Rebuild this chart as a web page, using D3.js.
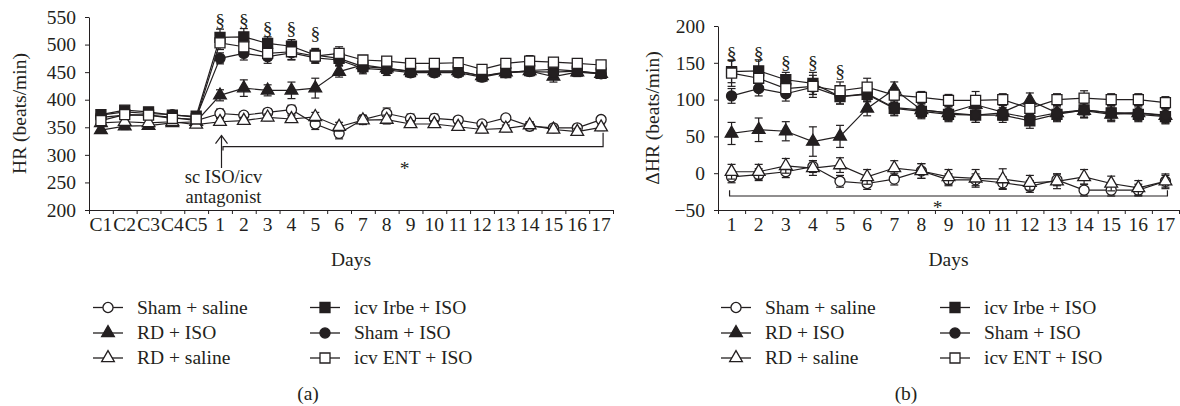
<!DOCTYPE html>
<html>
<head>
<meta charset="utf-8">
<script src="https://cdn.jsdelivr.net/npm/d3@7"></script>
<style>
  body { margin: 0; background: #fff; }
  svg { display: block; }
  text { font-family: "Liberation Serif", "Times New Roman", serif; fill: #231f20; }
</style>
</head>
<body>
<div id="chart"></div>
<script>
// categories
const daysA = ["C1", "C2", "C3", "C4", "C5", "1", "2", "3", "4", "5", "6", "7", "8", "9", "10", "11", "12", "13", "14", "15", "16", "17"];
const daysB = ["1", "2", "3", "4", "5", "6", "7", "8", "9", "10", "11", "12", "13", "14", "15", "16", "17"];

// panel (a) HR, beats/min
const shamSalineA = [368, 372, 372, 368, 362, 375, 372, 377, 382, 356, 339, 364, 375, 366, 366, 363, 356, 367, 352, 349, 349, 364];
const rdIsoA = [345, 352, 353, 358, 360, 408, 421, 417, 417, 421, 451, 463, 457, 452, 452, 452, 443, 450, 452, 442, 450, 447];
const rdSalineA = [358, 360, 358, 360, 355, 360, 362, 368, 365, 369, 351, 363, 364, 356, 356, 351, 346, 348, 354, 346, 342, 350];
const irbeIsoA = [373, 381, 378, 372, 370, 513, 514, 502, 497, 481, 475, 460, 457, 451, 452, 452, 443, 449, 453, 455, 452, 448];
const shamIsoA = [372, 378, 375, 373, 368, 475, 484, 478, 485, 476, 472, 457, 454, 449, 449, 449, 441, 449, 451, 450, 452, 447];
const entIsoA = [362, 373, 372, 366, 365, 503, 496, 484, 487, 479, 484, 472, 470, 466, 466, 467, 455, 466, 470, 468, 466, 463];

// panel (a) error bars
const shamSalineErrA = [5, 6, 5, 5, 5, 8, 6, 6, 8, 10, 10, 8, 10, 8, 8, 6, 6, 6, 8, 6, 6, 6];
const rdIsoErrA = [6, 6, 6, 6, 6, 10, 15, 10, 15, 18, 10, 8, 8, 8, 8, 8, 8, 8, 8, 10, 8, 8];
const rdSalineErrA = [5, 5, 5, 5, 5, 6, 6, 6, 6, 8, 8, 8, 8, 6, 6, 6, 6, 6, 6, 6, 6, 6];
const irbeIsoErrA = [6, 6, 6, 6, 6, 15, 15, 12, 12, 12, 10, 8, 8, 8, 8, 8, 8, 8, 8, 8, 8, 8];
const shamIsoErrA = [6, 6, 6, 6, 6, 10, 12, 12, 12, 10, 10, 10, 10, 8, 8, 8, 8, 8, 8, 8, 8, 8];
const entIsoErrA = [6, 6, 6, 6, 6, 12, 12, 12, 15, 12, 12, 8, 8, 8, 8, 8, 8, 8, 10, 8, 8, 8];

// panel (b) delta HR, beats/min
const shamSalineB = [-5, -2, 2, 9, -11, -14, -8, 3, -9, -9, -13, -18, -9, -23, -23, -23, -11];
const rdIsoB = [54, 59, 57, 43, 50, 88, 114, 86, 82, 93, 83, 99, 82, 85, 80, 82, 78];
const rdSalineB = [2, 2, 10, 7, 11, -5, 7, 3, -5, -7, -8, -13, -11, -5, -14, -20, -11];
const irbeIsoB = [138, 139, 127, 122, 104, 107, 88, 84, 80, 79, 79, 71, 80, 86, 82, 80, 77];
const shamIsoB = [105, 115, 108, 117, 104, 108, 89, 86, 82, 79, 82, 75, 82, 86, 82, 82, 79];
const entIsoB = [136, 129, 115, 118, 112, 117, 106, 103, 99, 99, 100, 88, 100, 102, 100, 100, 96];

// panel (b) error bars
const shamSalineErrB = [8, 8, 8, 8, 8, 8, 8, 10, 8, 8, 8, 8, 8, 8, 8, 8, 8];
const rdIsoErrB = [15, 16, 13, 20, 15, 10, 10, 10, 10, 10, 10, 10, 10, 10, 10, 10, 10];
const rdSalineErrB = [10, 10, 10, 10, 10, 10, 10, 10, 10, 12, 14, 10, 10, 10, 10, 10, 10];
const irbeIsoErrB = [15, 15, 10, 15, 10, 10, 10, 10, 10, 10, 10, 10, 10, 10, 10, 10, 10];
const shamIsoErrB = [10, 10, 10, 10, 10, 10, 10, 10, 10, 10, 10, 10, 10, 10, 10, 10, 10];
const entIsoErrB = [18, 15, 10, 15, 12, 12, 10, 8, 8, 12, 8, 8, 8, 10, 8, 8, 8];

// significance marks
const sectionDays = ["1", "2", "3", "4", "5"];
const sectionYA = [545, 545, 530, 530, 520];
const sectionYB = [163, 163, 151, 151, 138];

const groupNames = ["Sham + saline", "RD + ISO", "RD + saline", "icv Irbe + ISO", "Sham + ISO", "icv ENT + ISO"];
const groupShapes = ["circle", "triangle", "triangle", "square", "circle", "square"];
const groupFilled = [false, true, false, true, true, false];

const width = 1180;
const height = 406;
const ink = "#231f20";
const fontSize = 19.5;

const svg = d3.select("#chart").append("svg")
    .attr("width", width).attr("height", height)
    .style("font-size", fontSize + "px");
svg.append("rect").attr("width", width).attr("height", height).attr("fill", "#fff");

// marker path for each shape
function markerPath(shape) {
    if (shape === "circle") return d3.symbol(d3.symbolCircle, 80)();
    if (shape === "square") return d3.symbol(d3.symbolSquare, 100)();
    return d3.symbol(d3.symbolTriangle, 70)();
}

function drawPanel(opts) {
    const {cats, series, errs, x0, x1, yDomain, yTop, yBottom, yTicks, yLabel, yLabelX} = opts;
    const x = d3.scaleBand().domain(cats).range([x0, x1]).padding(0);
    const cx = d => x(d) + x.bandwidth() / 2;
    const y = d3.scaleLinear().domain(yDomain).range([yBottom, yTop]);
    const g = svg.append("g");

    // y axis
    const yAxis = g.append("g")
        .attr("transform", `translate(${x0},0)`)
        .call(d3.axisLeft(y).tickValues(yTicks).tickSize(4).tickPadding(9).tickSizeOuter(0));
    // x axis, ticks at band edges
    const edge = d3.scaleLinear().domain([0, cats.length]).range([x0, x1]);
    const xTicks = g.append("g")
        .attr("transform", `translate(0,${yBottom})`)
        .call(d3.axisBottom(edge).tickValues(d3.range(0, cats.length + 1)).tickSize(4).tickFormat("").tickSizeOuter(0));
    const xLabels = g.append("g")
        .attr("transform", `translate(0,${yBottom})`)
        .call(d3.axisBottom(x).tickSize(0).tickPadding(7));
    xLabels.select(".domain").remove();
    [yAxis, xTicks, xLabels].forEach(a => {
        a.selectAll("path, line").attr("stroke", ink);
        a.selectAll("text").attr("fill", ink).style("font-size", fontSize + "px")
            .style("font-family", "'Liberation Serif', 'Times New Roman', serif");
    });

    g.append("text")
        .attr("transform", `translate(${yLabelX},${(yTop + yBottom) / 2}) rotate(-90)`)
        .attr("text-anchor", "middle").attr("dy", "0.35em")
        .text(yLabel);
    g.append("text")
        .attr("x", (x0 + x1) / 2).attr("y", 266)
        .attr("text-anchor", "middle")
        .text("Days");

    // series
    series.forEach((vals, i) => {
        const pts = vals.map((v, k) => ({c: cats[k], v: v, e: errs[i][k]}));
        const sg = g.append("g");
        sg.append("path")
            .datum(pts)
            .attr("fill", "none").attr("stroke", ink).attr("stroke-width", 1.2)
            .attr("d", d3.line().x(d => cx(d.c)).y(d => y(d.v)));
        const eb = sg.append("g").selectAll("g").data(pts).join("g")
            .attr("stroke", ink).attr("stroke-width", 1.2);
        eb.append("line")
            .attr("x1", d => cx(d.c)).attr("x2", d => cx(d.c))
            .attr("y1", d => y(d.v - d.e)).attr("y2", d => y(d.v + d.e));
        eb.append("line")
            .attr("x1", d => cx(d.c) - 4).attr("x2", d => cx(d.c) + 4)
            .attr("y1", d => y(d.v + d.e)).attr("y2", d => y(d.v + d.e));
        eb.append("line")
            .attr("x1", d => cx(d.c) - 4).attr("x2", d => cx(d.c) + 4)
            .attr("y1", d => y(d.v - d.e)).attr("y2", d => y(d.v - d.e));
        sg.append("g").selectAll("path").data(pts).join("path")
            .attr("transform", d => `translate(${cx(d.c)},${y(d.v)})`)
            .attr("d", markerPath(groupShapes[i]))
            .attr("fill", groupFilled[i] ? ink : "#fff")
            .attr("stroke", ink).attr("stroke-width", 1.3);
    });

    return {g, x, cx, y};
}

const panelA = drawPanel({
    cats: daysA,
    series: [shamSalineA, rdIsoA, rdSalineA, irbeIsoA, shamIsoA, entIsoA],
    errs: [shamSalineErrA, rdIsoErrA, rdSalineErrA, irbeIsoErrA, shamIsoErrA, entIsoErrA],
    x0: 89, x1: 613, yDomain: [200, 550], yTop: 17, yBottom: 210,
    yTicks: d3.range(200, 551, 50), yLabel: "HR (beats/min)", yLabelX: 19
});

const panelB = drawPanel({
    cats: daysB,
    series: [shamSalineB, rdIsoB, rdSalineB, irbeIsoB, shamIsoB, entIsoB],
    errs: [shamSalineErrB, rdIsoErrB, rdSalineErrB, irbeIsoErrB, shamIsoErrB, entIsoErrB],
    x0: 718, x1: 1179, yDomain: [-50, 200], yTop: 26, yBottom: 210,
    yTicks: d3.range(-50, 201, 50), yLabel: "\u0394HR (beats/min)", yLabelX: 652
});

// section marks
[[panelA, sectionYA], [panelB, sectionYB]].forEach(([p, ys]) => {
    p.g.append("g").selectAll("text").data(sectionDays).join("text")
        .attr("x", d => p.cx(d)).attr("y", (d, i) => p.y(ys[i]))
        .attr("dy", "0.35em").attr("text-anchor", "middle")
        .text("\u00a7");
});

// panel (a) annotation: arrow, bracket and star
{
    const {g, cx, y} = panelA;
    const ax = cx("1") + 1.5;
    g.append("line").attr("x1", ax).attr("x2", ax).attr("y1", y(335)).attr("y2", 168)
        .attr("stroke", ink).attr("stroke-width", 1.2);
    g.append("path")
        .attr("d", `M${ax - 6},${y(335) + 8}L${ax},${y(335)}L${ax + 6},${y(335) + 8}`)
        .attr("fill", "none").attr("stroke", ink).attr("stroke-width", 1.2);
    g.append("text").attr("x", ax + 2).attr("y", 183).attr("text-anchor", "middle")
        .style("font-size", "18.5px").text("sc ISO/icv");
    g.append("text").attr("x", ax + 2).attr("y", 203).attr("text-anchor", "middle")
        .style("font-size", "18.5px").text("antagonist");
    const bx0 = cx("1") + 3;
    const bx1 = cx("17") + 2;
    g.append("path")
        .attr("d", `M${bx0},${y(308)}V${y(315)}H${bx1}V${y(340)}`)
        .attr("fill", "none").attr("stroke", ink).attr("stroke-width", 1.2);
    g.append("text").attr("x", cx("9") - 6).attr("y", 175).attr("text-anchor", "middle").text("*");
}

// panel (b) bracket and star
{
    const {g, cx, y} = panelB;
    const bx0 = cx("1") - 2;
    const bx1 = cx("17") + 2;
    g.append("path")
        .attr("d", `M${bx0},${y(-23)}V${y(-31)}H${bx1}V${y(-23)}`)
        .attr("fill", "none").attr("stroke", ink).attr("stroke-width", 1.2);
    g.append("text").attr("x", cx("9") - 11).attr("y", 214).attr("text-anchor", "middle").text("*");
}

// legends
function drawLegend(colX, rowY) {
    groupNames.forEach((name, i) => {
        const lx = colX[Math.floor(i / 3)];
        const ly = rowY[i % 3];
        const lg = svg.append("g").attr("transform", `translate(${lx},${ly})`);
        lg.append("line").attr("x1", 0).attr("x2", 30).attr("stroke", ink).attr("stroke-width", 1.3);
        lg.append("path").attr("transform", "translate(15,0)")
            .attr("d", markerPath(groupShapes[i]))
            .attr("fill", groupFilled[i] ? ink : "#fff")
            .attr("stroke", ink).attr("stroke-width", 1.3);
        lg.append("text").attr("x", 44).attr("dy", "0.33em").text(name);
    });
}
drawLegend([93, 310], [307.5, 333, 358]);
drawLegend([721, 940], [307.5, 333, 358]);

svg.append("text").attr("x", 308).attr("y", 400).attr("text-anchor", "middle").text("(a)");
svg.append("text").attr("x", 906).attr("y", 400).attr("text-anchor", "middle").text("(b)");
</script>
</body>
</html>
